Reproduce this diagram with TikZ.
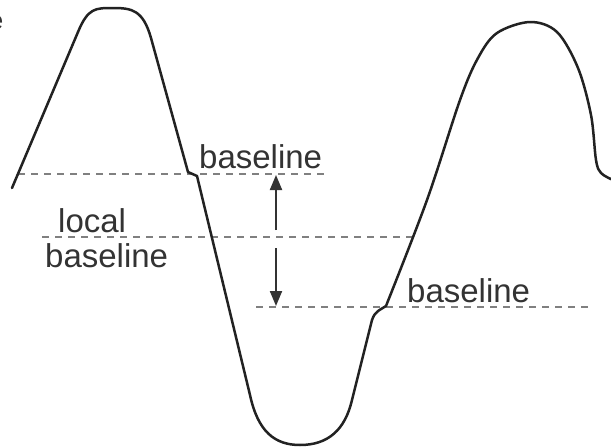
\documentclass[tikz,border=0pt]{standalone}
\usepackage{fontspec}
\setmainfont{Liberation Sans}
\usetikzlibrary{arrows.meta}
\definecolor{curvecol}{HTML}{222222}
\definecolor{dashcol}{HTML}{808080}
\definecolor{textcol}{HTML}{333333}
\tikzset{
  wave/.style={draw=curvecol, line width=2.5pt, line join=round, line cap=round},
  refline/.style={draw=dashcol, line width=1.2pt, dash pattern=on 7pt off 6pt},
  gaparrow/.style={draw=textcol, line width=2pt, -{Triangle[length=15pt,width=12pt]}},
  lbl/.style={text=textcol, font=\fontsize{33}{35}\selectfont, inner sep=0pt, anchor=base west},
}
\begin{document}
\begin{tikzpicture}[x=1pt,y=-1pt]
\useasboundingbox[fill=white] (0,0) rectangle (611,447);

% reference lines
\coordinate (t1) at (18,174);  \coordinate (t2) at (325,174);
\coordinate (m1) at (42,237);  \coordinate (m2) at (415,237);
\coordinate (b1) at (256,307); \coordinate (b2) at (592,307);
\draw[refline] (t1) -- (t2);
\draw[refline] (m1) -- (m2);
\draw[refline] (b1) -- (b2);

% wave
\draw[wave] (12,188) -- (78,32) .. controls (88,8) and (95,8) .. (113,8)
  .. controls (132,8) and (143,10) .. (151,38) -- (188,172) -- (197,176)
  -- (250,395) .. controls (258,432) and (275,445) .. (300,445)
  .. controls (328,445) and (345,430) .. (352,400) -- (372,320)
  .. controls (375,311) and (380,310) .. (386,306)
  -- plot[smooth, tension=0.55] coordinates {(386,306) (427,200) (460,100) (478,58) (497,33) (530,22) (557,32) (578,68) (591,115) (596,160) (601,173) (613,180)};

% gap arrows
\coordinate (a0) at (276,230); \coordinate (a1) at (276,175);
\coordinate (c0) at (276,248); \coordinate (c1) at (276,306);
\draw[gaparrow] (a0) -- (a1);
\draw[gaparrow] (c0) -- (c1);

% labels
\node[lbl] (l1) at (199,168) {baseline};
\node[lbl] (l2) at (407,302) {baseline};
\node[lbl] (l3) at (58,232) {local};
\node[lbl] (l4) at (45,267) {baseline};
\node[text=textcol, font=\fontsize{26}{28}\selectfont, inner sep=0pt, anchor=base east] (frag) at (3.5,30) {e};
\end{tikzpicture}
\end{document}
